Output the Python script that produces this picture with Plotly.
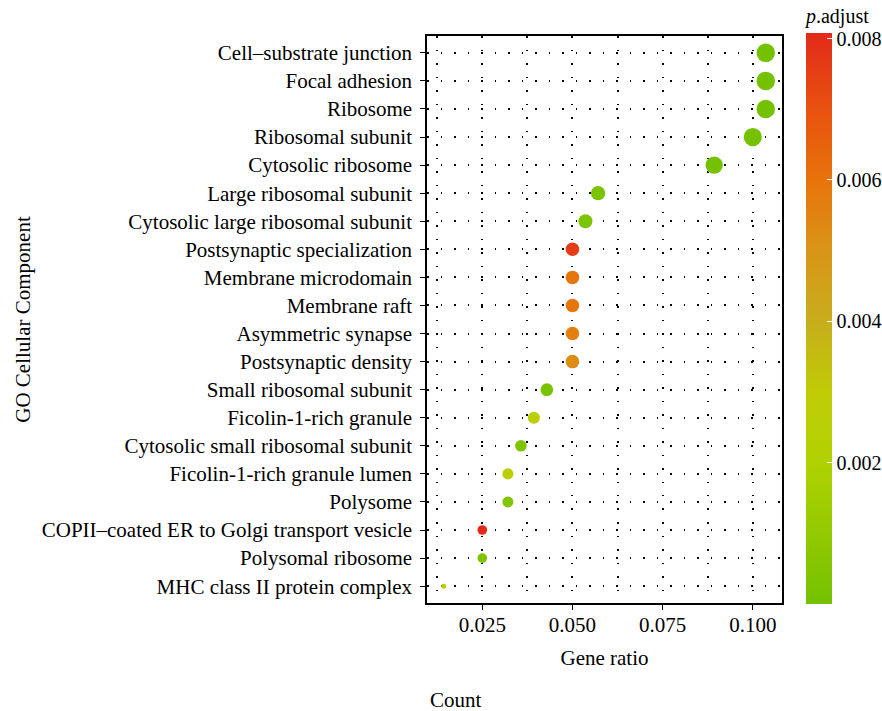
import plotly.graph_objects as go
import numpy as np

terms = [
    "Cell\u2013substrate junction",
    "Focal adhesion",
    "Ribosome",
    "Ribosomal subunit",
    "Cytosolic ribosome",
    "Large ribosomal subunit",
    "Cytosolic large ribosomal subunit",
    "Postsynaptic specialization",
    "Membrane microdomain",
    "Membrane raft",
    "Asymmetric synapse",
    "Postsynaptic density",
    "Small ribosomal subunit",
    "Ficolin-1-rich granule",
    "Cytosolic small ribosomal subunit",
    "Ficolin-1-rich granule lumen",
    "Polysome",
    "COPII\u2013coated ER to Golgi transport vesicle",
    "Polysomal ribosome",
    "MHC class II protein complex",
]
gene_ratio = [0.1036, 0.1036, 0.1036, 0.1000, 0.0893, 0.0571, 0.0536, 0.0500, 0.0500, 0.0500,
              0.0500, 0.0500, 0.0429, 0.0393, 0.0357, 0.0321, 0.0321, 0.0250, 0.0250, 0.0143]
counts = [29, 29, 29, 28, 25, 16, 15, 14, 14, 14, 14, 14, 12, 11, 10, 9, 9, 7, 7, 4]
p_adjust = [0.00001, 0.00001, 0.00001, 0.00002, 0.00004, 0.0002, 0.0003, 0.0076, 0.0059, 0.0059,
            0.0056, 0.0052, 0.0002, 0.0026, 0.0004, 0.0026, 0.0005, 0.00808, 0.0004, 0.0025]
x_ticks = [0.025, 0.050, 0.075, 0.100]
cbar_ticks = [0.002, 0.004, 0.006, 0.008]

# size scale (area scaling like ggplot scale_size)
dmin, dmax = 5.0, 18.5
c = np.array(counts, dtype=float)
sizes = dmin + (dmax - dmin) * np.sqrt((c - c.min()) / (c.max() - c.min()))

cmax = 0.00808
colorscale = [
    [0.0, "#74C100"],
    [0.2475, "#B0D200"],
    [0.37, "#C0CC06"],
    [0.495, "#C8AD1C"],
    [0.62, "#D99517"],
    [0.7425, "#E8730A"],
    [0.866, "#E8520F"],
    [1.0, "#E22A1A"],
]

FONT = "Liberation Serif"
FS = 21

fig = go.Figure()
fig.add_trace(go.Scatter(
    x=gene_ratio, y=terms, mode="markers",
    marker=dict(
        size=sizes, sizemode="diameter", color=p_adjust, colorscale=colorscale,
        cmin=0, cmax=cmax, line=dict(width=0), opacity=1,
        colorbar=dict(
            title=dict(text="<i>p</i>.adjust", side="top", font=dict(family=FONT, size=FS - 1, color="black")),
            thickness=26, lenmode="pixels", len=599, x=1.0676, xanchor="left",
            y=1.0547, yanchor="top", yref="paper",
            tickvals=cbar_ticks, ticktext=["0.002", "0.004", "0.006", "0.008"],
            ticks="inside", ticklen=5, tickcolor="white", tickwidth=1,
            tickfont=dict(family=FONT, size=FS - 1, color="black"),
            outlinewidth=0, xpad=0, ypad=0,
        ),
    ),
    showlegend=False,
))

grid_dash = "1.5px,12px"
fig.update_layout(
    width=882, height=711,
    margin=dict(l=427, r=100, t=36, b=108, autoexpand=False),
    paper_bgcolor="white", plot_bgcolor="white",
    font=dict(family=FONT, size=FS, color="black"),
    xaxis=dict(
        range=[0.00967, 0.1081], tickvals=x_ticks, ticktext=["0.025", "0.050", "0.075", "0.100"],
        showgrid=True, gridcolor="black", gridwidth=1.5, griddash=grid_dash,
        minor=dict(dtick=0.0125, tick0=0.0125, showgrid=True, gridcolor="black", gridwidth=1.5, griddash=grid_dash),
        ticks="outside", ticklen=5, tickcolor="black", tickwidth=1,
        showline=True, linecolor="black", linewidth=1.5, mirror=True, zeroline=False,
        title=dict(text="Gene ratio", font=dict(family=FONT, size=FS), standoff=14),
        tickfont=dict(family=FONT, size=FS), automargin=False, ticklabelstandoff=-3,
    ),
    yaxis=dict(
        categoryorder="array", categoryarray=terms[::-1], range=[-0.6, 19.6],
        showgrid=True, gridcolor="black", gridwidth=1.5, griddash=grid_dash,
        minor=dict(dtick=1, tick0=0.5, showgrid=True, gridcolor="black", gridwidth=1.5, griddash=grid_dash),
        ticks="outside", ticklen=5, tickcolor="black", tickwidth=1,
        showline=True, linecolor="black", linewidth=1.5, mirror=True, zeroline=False,
        title=dict(text="GO Cellular Component", font=dict(family=FONT, size=FS), standoff=5),
        tickfont=dict(family=FONT, size=FS), automargin=False, ticklabelstandoff=4,
    ),
    annotations=[
        dict(text="Count", xref="paper", yref="paper", x=0.003, y=-0.171, xanchor="left", yanchor="middle",
             showarrow=False, font=dict(family=FONT, size=FS, color="black")),
    ],
)

fig.write_html("out.html", config={"displayModeBar": False},
               post_script="document.body.style.margin='0px';")
